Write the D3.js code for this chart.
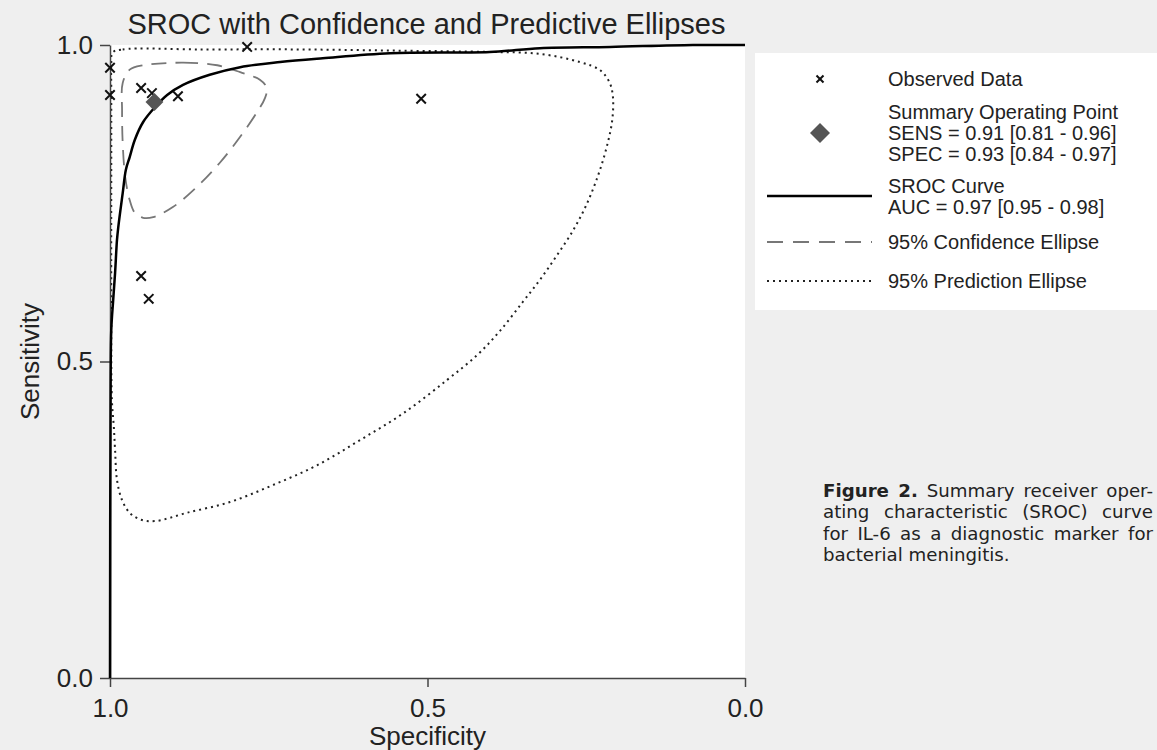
<!DOCTYPE html>
<html>
<head>
<meta charset="utf-8">
<script src="https://cdn.jsdelivr.net/npm/d3@7"></script>
<style>
  html, body { margin: 0; padding: 0; background: #efefef; }
  svg { display: block; }
</style>
</head>
<body>
<div id="chart"></div>
<script>
// observed studies
const obsSpec = [1.0, 1.0, 0.951, 0.934, 0.893, 0.784, 0.510, 0.951, 0.939];
const obsSens = [0.964, 0.921, 0.932, 0.924, 0.919, 0.997, 0.915, 0.635, 0.599];

// summary operating point
const summarySpec = [0.93];
const summarySens = [0.91];

// SROC curve
const srocSpec = [0, 0.082, 0.213, 0.323, 0.402, 0.559, 0.665, 0.732, 0.795, 0.843, 0.885, 0.910, 0.929, 0.948, 0.961, 0.969, 0.975, 0.980, 0.987, 0.989, 0.992, 0.995, 0.998, 0.999, 1.0];
const srocSens = [1.0, 1.0, 0.997, 0.995, 0.989, 0.987, 0.979, 0.973, 0.965, 0.953, 0.937, 0.921, 0.902, 0.878, 0.850, 0.823, 0.803, 0.766, 0.712, 0.692, 0.640, 0.597, 0.550, 0.471, 0.0];

// 95% confidence ellipse
const confSpec = [0.948, 0.885, 0.831, 0.795, 0.764, 0.753, 0.756, 0.769, 0.795, 0.827, 0.863, 0.901, 0.932, 0.948, 0.961, 0.969, 0.976, 0.980, 0.981, 0.980, 0.969];
const confSens = [0.968, 0.972, 0.968, 0.957, 0.945, 0.932, 0.916, 0.893, 0.855, 0.814, 0.776, 0.744, 0.728, 0.727, 0.735, 0.755, 0.791, 0.845, 0.897, 0.940, 0.961];

// 95% prediction ellipse
const predSpec = [0.996, 0.980, 0.858, 0.701, 0.543, 0.402, 0.323, 0.260, 0.228, 0.213, 0.208, 0.209, 0.217, 0.231, 0.250, 0.272, 0.298, 0.323, 0.350, 0.387, 0.422, 0.469, 0.537, 0.606, 0.674, 0.743, 0.811, 0.879, 0.928, 0.951, 0.969, 0.981, 0.989, 0.992, 0.994, 0.997, 0.998, 0.998, 0.998, 0.998];
const predSens = [0.988, 0.993, 0.993, 0.993, 0.991, 0.989, 0.986, 0.973, 0.960, 0.940, 0.918, 0.882, 0.842, 0.795, 0.747, 0.705, 0.665, 0.629, 0.594, 0.547, 0.510, 0.471, 0.419, 0.376, 0.336, 0.305, 0.278, 0.261, 0.248, 0.250, 0.261, 0.281, 0.313, 0.360, 0.397, 0.439, 0.597, 0.834, 0.930, 0.970];

const tickValues = [0, 0.5, 1];

const legendLabels = [
  ["Observed Data"],
  ["Summary Operating Point", "SENS = 0.91 [0.81 - 0.96]", "SPEC = 0.93 [0.84 - 0.97]"],
  ["SROC Curve", "AUC = 0.97 [0.95 - 0.98]"],
  ["95% Confidence Ellipse"],
  ["95% Prediction Ellipse"]
];

const captionBold = "Figure 2.";
const captionLines = [
  " Summary receiver oper-",
  "ating characteristic (SROC) curve",
  "for IL-6 as a diagnostic marker for",
  "bacterial meningitis."
];

const W = 1157, H = 750;
const font = "'Liberation Sans', Arial, sans-serif";

const svg = d3.select("#chart").append("svg")
  .attr("width", W)
  .attr("height", H);

svg.append("rect").attr("width", W).attr("height", H).attr("fill", "#efefef");

// specificity runs 1 -> 0 left to right
const x = d3.scaleLinear().domain([1, 0]).range([110, 745]);
const y = d3.scaleLinear().domain([0, 1]).range([678, 45]);

// plot area
svg.append("rect")
  .attr("x", x(1)).attr("y", y(1))
  .attr("width", x(0) - x(1)).attr("height", y(0) - y(1))
  .attr("fill", "#fff");

const zip = (a, b) => a.map((v, i) => [v, b[i]]);
const line = d3.line().x(d => x(d[0])).y(d => y(d[1]));

// prediction ellipse (dotted)
svg.append("path")
  .attr("d", line.curve(d3.curveCatmullRomClosed)(zip(predSpec, predSens)))
  .attr("fill", "none")
  .attr("stroke", "#222")
  .attr("stroke-width", 2)
  .attr("stroke-dasharray", "2,4");

// confidence ellipse (dashed)
svg.append("path")
  .attr("d", line.curve(d3.curveCatmullRomClosed)(zip(confSpec, confSens)))
  .attr("fill", "none")
  .attr("stroke", "#777")
  .attr("stroke-width", 1.8)
  .attr("stroke-dasharray", "15,9");

// axes
const xAxis = svg.append("g")
  .attr("transform", `translate(0,${y(0)})`)
  .call(d3.axisBottom(x).tickValues(tickValues).tickFormat(d3.format(".1f")).tickSize(9).tickSizeOuter(0).tickPadding(12));

const yAxis = svg.append("g")
  .attr("transform", `translate(${x(1)},0)`)
  .call(d3.axisLeft(y).tickValues(tickValues).tickFormat(d3.format(".1f")).tickSize(10).tickSizeOuter(0).tickPadding(7));

[xAxis, yAxis].forEach(g => {
  g.select(".domain").attr("stroke", "#444").attr("stroke-width", 1.5);
  g.selectAll(".tick line").attr("stroke", "#444").attr("stroke-width", 1.5);
  g.selectAll(".tick text")
    .attr("fill", "#222")
    .style("font-family", font)
    .style("font-size", "26px");
});

// SROC curve
svg.append("path")
  .attr("d", line.curve(d3.curveCatmullRom)(zip(srocSpec, srocSens)))
  .attr("fill", "none")
  .attr("stroke", "#000")
  .attr("stroke-width", 2.5);

// observed data
const cross = d3.symbol().type(d3.symbolX).size(60);
svg.append("g").selectAll("path")
  .data(zip(obsSpec, obsSens))
  .join("path")
  .attr("d", cross)
  .attr("transform", d => `translate(${x(d[0])},${y(d[1])})`)
  .attr("stroke", "#111")
  .attr("stroke-width", 2)
  .attr("fill", "none");

// summary point
const diamond = d3.symbol().type(d3.symbolSquare);
svg.append("g").selectAll("path")
  .data(zip(summarySpec, summarySens))
  .join("path")
  .attr("d", diamond.size(160))
  .attr("transform", d => `translate(${x(d[0])},${y(d[1])}) rotate(45)`)
  .attr("fill", "#555");

// title and axis titles
svg.append("text")
  .attr("x", (x(1) + x(0)) / 2 - 1)
  .attr("y", 34)
  .attr("text-anchor", "middle")
  .style("font-family", font)
  .style("font-size", "29px")
  .attr("fill", "#222")
  .text("SROC with Confidence and Predictive Ellipses");

svg.append("text")
  .attr("x", (x(1) + x(0)) / 2)
  .attr("y", 745)
  .attr("text-anchor", "middle")
  .style("font-family", font)
  .style("font-size", "26px")
  .attr("fill", "#222")
  .text("Specificity");

svg.append("text")
  .attr("transform", `translate(39,${(y(0) + y(1)) / 2}) rotate(-90)`)
  .attr("text-anchor", "middle")
  .style("font-family", font)
  .style("font-size", "26px")
  .attr("fill", "#222")
  .text("Sensitivity");

// legend
const lg = svg.append("g");
lg.append("rect")
  .attr("x", 755).attr("y", 53)
  .attr("width", W - 755).attr("height", 257)
  .attr("fill", "#fff");

const legendY = [79, 133, 196, 242, 281];
const textX = 888, symX = 820;

legendLabels.forEach((lines, i) => {
  const n = lines.length;
  const t = lg.append("text")
    .attr("y", legendY[i] - (n - 1) * 10.5)
    .style("font-family", font)
    .style("font-size", "20px")
    .attr("fill", "#222");
  lines.forEach((s, j) => {
    t.append("tspan").attr("x", textX).attr("dy", j === 0 ? "0.36em" : 21).text(s);
  });
});

lg.append("path")
  .attr("d", d3.symbol().type(d3.symbolX).size(34)())
  .attr("transform", `translate(${symX},${legendY[0]})`)
  .attr("stroke", "#111").attr("stroke-width", 2).attr("fill", "none");

lg.append("path")
  .attr("d", d3.symbol().type(d3.symbolSquare).size(200)())
  .attr("transform", `translate(${symX},${legendY[1]}) rotate(45)`)
  .attr("fill", "#555");

lg.append("line")
  .attr("x1", 767).attr("x2", 872)
  .attr("y1", legendY[2]).attr("y2", legendY[2])
  .attr("stroke", "#000").attr("stroke-width", 2.5);

lg.append("line")
  .attr("x1", 767).attr("x2", 872)
  .attr("y1", legendY[3]).attr("y2", legendY[3])
  .attr("stroke", "#777").attr("stroke-width", 1.8)
  .attr("stroke-dasharray", "16,10");

lg.append("line")
  .attr("x1", 767).attr("x2", 872)
  .attr("y1", legendY[4]).attr("y2", legendY[4])
  .attr("stroke", "#222").attr("stroke-width", 2)
  .attr("stroke-dasharray", "2,4");

// caption, justified to the right edge of the page
const capX = 823, capRight = 1153;
captionLines.forEach((s, i) => {
  const t = svg.append("text")
    .attr("x", capX)
    .attr("y", 497 + i * 21.3)
    .style("font-family", "'DejaVu Sans', sans-serif")
    .style("font-size", "18.2px")
    .attr("fill", "#222");
  if (i === 0) {
    t.append("tspan").style("font-weight", "bold").text(captionBold);
    t.append("tspan").text(s);
  } else {
    t.text(s);
  }
  if (i < captionLines.length - 1) {
    const full = (i === 0 ? captionBold : "") + s;
    const gaps = (full.match(/ /g) || []).length;
    const extra = capRight - capX - t.node().getComputedTextLength();
    if (gaps > 0 && extra > 0) t.style("word-spacing", (extra / gaps) + "px");
  }
});
</script>
</body>
</html>
